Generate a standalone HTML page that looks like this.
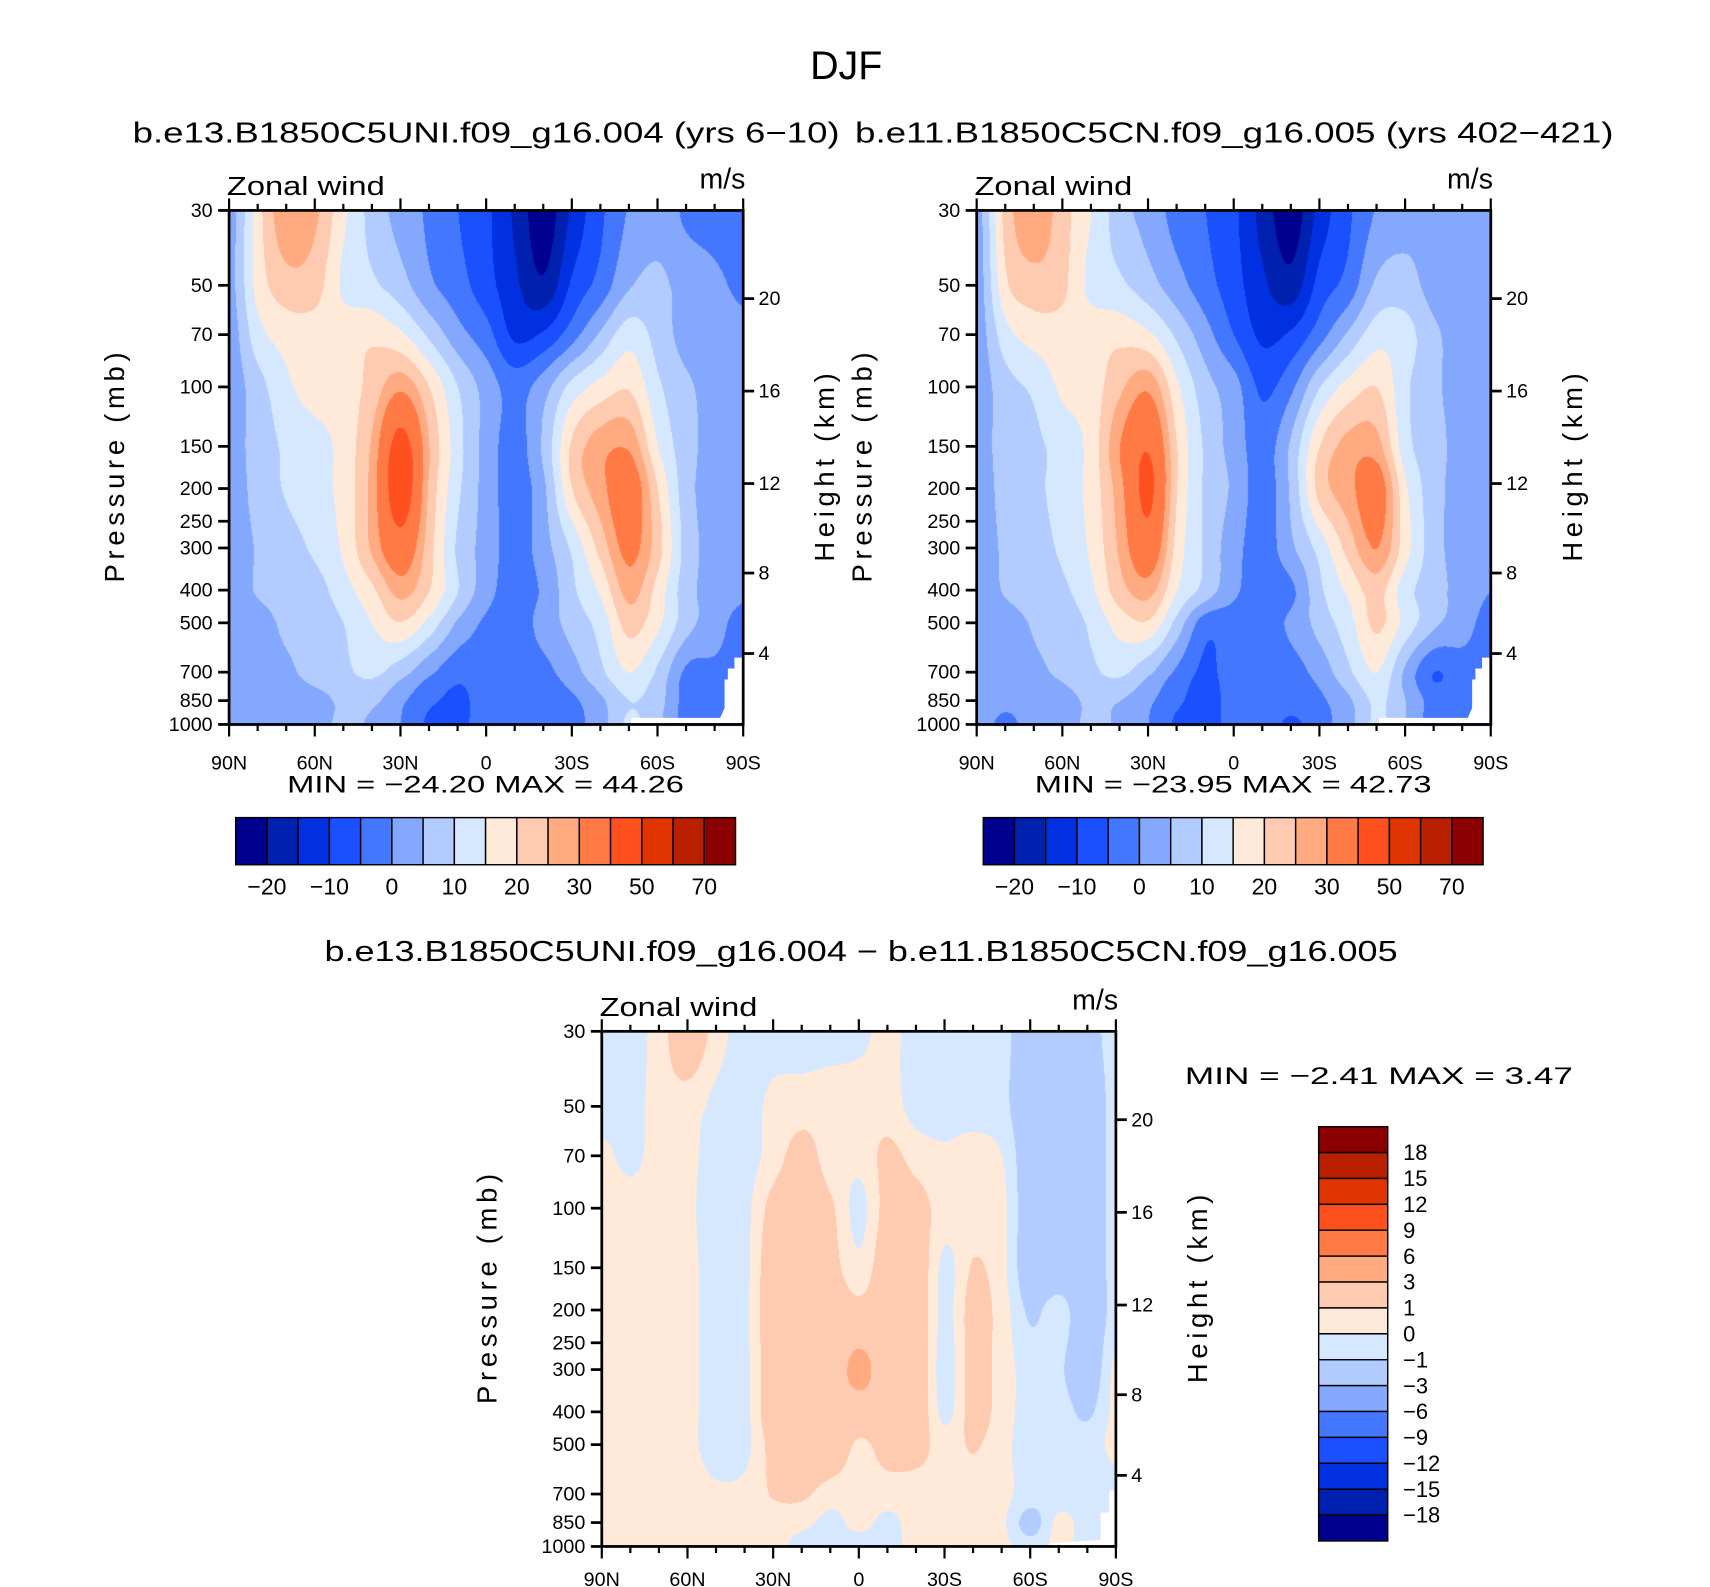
<!DOCTYPE html>
<html><head><meta charset="utf-8">
<style>
html,body{margin:0;padding:0;background:#fff;}
#wrap{position:relative;width:1710px;height:1587px;overflow:hidden;background:#fff;}
#field{position:absolute;left:0;top:0;}
#chart{position:absolute;left:0;top:0;}
text{font-family:"Liberation Sans",sans-serif;fill:#000;}
</style></head>
<body>
<div id="wrap">
<canvas id="field" width="1710" height="1587"></canvas>
<svg id="chart" width="1710" height="1587" viewBox="0 0 1560 1448" preserveAspectRatio="none" xmlns="http://www.w3.org/2000/svg">
<text x="772" y="72" font-size="36" text-anchor="middle">DJF</text>
<text x="121" y="130" font-size="26" textLength="645" lengthAdjust="spacingAndGlyphs">b.e13.B1850C5UNI.f09_g16.004 (yrs 6−10)</text>
<text x="780" y="130" font-size="26" textLength="692" lengthAdjust="spacingAndGlyphs">b.e11.B1850C5CN.f09_g16.005 (yrs 402−421)</text>
<text x="296" y="877" font-size="26" textLength="979" lengthAdjust="spacingAndGlyphs">b.e13.B1850C5UNI.f09_g16.004 − b.e11.B1850C5CN.f09_g16.005</text>
<g id="axes"></g>
</svg>
</div>
<script>
// ---------- data ----------
const pressures = [30,50,70,100,150,200,300,400,500,700,850,1000];
const latitudes = [90,80,70,60,50,40,30,20,10,0,-10,-20,-30,-40,-50,-60,-70,-80,-90];
const ctrlLevels = [-20,-15,-10,-5,0,5,10,15,20,25,30,40,50,60,70];
const ctrlLabels = ["−20","−10","0","10","20","30","50","70"];
const diffLevels = [-18,-15,-12,-9,-6,-3,-1,0,1,3,6,9,12,15,18];
const diffLabels = ["18","15","12","9","6","3","1","0","−1","−3","−6","−9","−12","−15","−18"];
const palette = ["#00008f","#0020b0","#0030e0","#1a50ff","#4477ff","#85a8ff","#b3ccff","#d6e8ff","#ffeada","#ffcbb0","#ffaa80","#ff7a45","#ff5020","#e03500","#b82000","#8b0000"];
const tickPressures = [30,50,70,100,150,200,250,300,400,500,700,850,1000];
const latTickLabels = ["90N","60N","30N","0","30S","60S","90S"];
const heightTicks = [4,8,12,16,20];

const windA = [
[2.5,18,29,26,16,8,3,-1,-5,-9,-16,-23,-14,-6,0.5,3,-1,-2,-3],
[3,17,23,22,14,11,7,1,-3,-8,-14,-19,-9,-3,4.5,6,3,1,-1],
[2,13,17,18,18,19,16,9,2,-3,-11,-9,-2,6,13,8,3,2,1],
[2,8,14,17,17.5,22,29,20,10,3,-2,3,12,17,19.5,11,6,3,1],
[3,7,11,13,17,26,44,25,12,3,-2,6,21,28,29,15,7,3,2],
[2,7,10.5,13,17,27,46,24,11,3,-2.5,4,20,28,35,20,7,3,2],
[2,5.5,8,11,16,26,36,22,9,3,-2.5,3,11,22,32,22,8,3,1],
[2,5.5,7,8,13,19,27,20,10,2,-2.5,1,9,16,27,18,7,3,1],
[2,3,6,7,10,15,19.5,13,4,-1,-2.5,2,7,12,22,16,7,2,-2],
[2,3,4,7,9,11,7,1,-3.5,-2.5,-2.5,-1.5,3,9,15,9,-1,-1,-2],
[2,2,2,3,6,6,1,-4,-6,-3,-2.5,-3,-1,4,10,7,-2,-2,-5],
[2,2,2,3,6,4,0,-6,-6,-3,-2,-5,-2,3,11,6,-2,-3,-4]
];
const windB = [
[2.5,22,29,22,15,7,3,-2,-5,-9,-17,-23,-13,-6,0.5,3,3,3,3],
[2,19,23,21,13.5,11,7,2,-3,-8,-14,-18,-8,-3,6,7,3,2,2],
[2,13,17,18,18,18.5,16,9,2,-5,-11,-9,-2,6,13,12,6,3,2],
[2,8,11,16,17.5,24,29,16,7,2,-6,-1,10,17,20,11,6,3,2],
[3,7,9,12,17,30,39,20,9,3,-2.5,6,20,27,27,12,7,3,2],
[2,7,9,12,17,28,42,20,9,4,-2.5,6,22,28,34,16,7,3,2],
[2,6,8,11,16,26,36,18,9,2,-2.5,4,12,22,30,17,7,3,2],
[2,5.5,7,9,14,23,27,15,8,1,-2.5,-1,9,16,22,12,7,3,0],
[2,3,5.5,7,11,17,19,8,-3,-2.5,-2,1,7,13,21,13,6,2,-2],
[2,2.5,4,6,9,11,6,-1,-6,-2.5,-2.5,-2,2,9,15,4,-5,-2,-3],
[2,1,2,3,6,5,1,-4,-7,-3,-2.5,-3,-1,4,11,5,-2,-1,-4],
[2,-1,2,3,6,4,0,-6,-7,-3,-2,-6,-2,3,11,5,-3,-3,-3]
];
const windDiff = [
[-0.5,-0.5,0.5,2,0.5,-0.5,-0.5,-0.5,-0.5,-0.3,0.3,-0.5,-0.5,-0.5,-0.6,-2,-2,-1.5,-0.5],
[-0.5,-0.5,0.5,0.5,-0.3,-0.5,0.3,0.5,0.6,0.6,0.5,-0.4,-0.5,-0.5,-0.7,-2,-2,-2,-0.5],
[0.3,-0.3,0.5,0.3,-0.5,-0.5,0.5,1.5,0.5,0.3,1.3,0.6,0.2,0.5,0,-2,-2,-2,-0.5],
[0.5,0.5,0.5,0.2,-0.5,-0.3,1.5,2,1.2,-0.3,1.5,1.5,0.5,0.5,0.3,-2,-2,-2,-0.5],
[0.5,0.5,0.5,0.3,-0.5,-0.3,2,2,1.5,0.3,2,2,-0.3,1.1,0.3,-2,-2,-2,-0.5],
[0.5,0.5,0.5,0.3,-0.5,-0.2,2,2,2,1.5,2,2,-0.3,1.5,0.5,-1.2,-0.5,-2,-0.5],
[0.5,0.8,0.5,0.3,-0.5,-0.3,2,2,2,3.5,2,2,-0.5,1.5,0.5,-0.5,-0.8,-2,0.3],
[0.5,0.5,0.5,0.3,-0.5,-0.3,2,2,2,2,2,2,-0.3,1.5,0.5,-0.5,-0.5,-1.2,0.3],
[0.5,0.5,0.5,0.3,-0.5,-0.3,1.5,2,2,0.8,1.5,1.5,0.5,1.1,0.3,-0.5,-0.5,-0.5,0.3],
[0.5,0.5,0.5,0.5,0.2,0.3,1.1,1.2,0.5,0.5,0.5,0.5,0.5,0.5,0.3,-0.5,-0.5,-0.5,-0.5],
[0.5,0.5,0.5,0.5,0.5,0.5,0.5,0.3,-0.3,0.3,-0.3,0.5,0.5,0.5,0.2,-1.5,0.3,-0.5,-0.5],
[0.5,0.5,0.5,0.5,0.5,0.5,0.5,-0.5,-0.3,-0.5,-0.5,0.5,0.5,0.5,0.3,-0.5,0.3,-0.5,-0.5]
];

// ---------- geometry ----------
const S = 1710/1560;
const NS = "http://www.w3.org/2000/svg";
const panels = [
 {x0:209,y0:192,w:469,h:469,grid:windA,levels:ctrlLevels,name:'control-a',lab:41},
 {x0:891,y0:192,w:469,h:469,grid:windB,levels:ctrlLevels,name:'control-b',lab:41},
 {x0:549,y0:941,w:469,h:470,grid:windDiff,levels:diffLevels,name:'difference',lab:36}
];
function xOfLat(p,lat){return p.x0 + p.w*(90-lat)/180;}
function yOfP(p,pr){return p.y0 + p.h*Math.log(pr/30)/Math.log(1000/30);}
function pOfHeight(z){ z*=1000; if(z<11000) return 1013.25*Math.pow(1-2.25577e-5*z,5.25588); return 226.32*Math.exp(-(z-11000)/6341.6);}
function colorIdx(v,lv){let i=0;while(i<lv.length&&v>=lv[i])i++;return i;}
function hex(c){return [parseInt(c.substr(1,2),16),parseInt(c.substr(3,2),16),parseInt(c.substr(5,2),16)];}
const rgb = palette.map(hex);

function cr(a,b,c,d,t){return 0.5*((2*b)+(-a+c)*t+(2*a-5*b+4*c-d)*t*t+(-a+3*b-3*c+d)*t*t*t);}
function rowVal(row,fx){
  const n=row.length; const c=Math.floor(fx), t=fx-c;
  const g=i=>row[Math.max(0,Math.min(n-1,i))];
  return cr(g(c-1),g(c),g(c+1),g(c+2),t);
}

// ---------- fields ----------
const cv=document.getElementById('field');
const ctx=cv.getContext('2d');
const img=ctx.createImageData(1710,1587);
const lnP=pressures.map(Math.log);
panels.forEach(p=>{
  const px0=Math.round(p.x0*S), px1=Math.round((p.x0+p.w)*S);
  const py0=Math.round(p.y0*S), py1=Math.round((p.y0+p.h)*S);
  const nc=latitudes.length, nr=pressures.length;
  const G=p.grid;
  for(let py=py0;py<=py1;py++){
    const dy=py/S;
    const lp=Math.log(30)+(dy-p.y0)/p.h*Math.log(1000/30);
    let k=0; while(k<nr-2 && lp>lnP[k+1]) k++;
    let fy=(lp-lnP[k])/(lnP[k+1]-lnP[k]); fy=Math.max(0,Math.min(1,fy));
    const rows=[k-1,k,k+1,k+2].map(i=>G[Math.max(0,Math.min(nr-1,i))]);
    for(let px=px0;px<=px1;px++){
      const dx=px/S;
      const lat=90-(dx-p.x0)/p.w*180;
      let fx=(latitudes[0]-lat)/(latitudes[0]-latitudes[1]);
      fx=Math.max(0,Math.min(nc-1.0001,fx));
      const v=cr(rowVal(rows[0],fx),rowVal(rows[1],fx),rowVal(rows[2],fx),rowVal(rows[3],fx),fy);
      const col=rgb[colorIdx(v,p.levels)];
      const o=(py*1710+px)*4;
      img.data[o]=col[0];img.data[o+1]=col[1];img.data[o+2]=col[2];img.data[o+3]=255;
    }
  }
});
ctx.putImageData(img,0,0);

// ---------- axes ----------
const ax=document.getElementById('axes');
function el(tag,attrs,txt){const e=document.createElementNS(NS,tag);for(const k in attrs)e.setAttribute(k,attrs[k]);if(txt!==undefined)e.textContent=txt;ax.appendChild(e);return e;}

const masks=[
 "678,600 670,600 670,610 664,610 664,620 661,620 661,646 657,655 576,655 576,661 678,661",
 "1360,600 1352,600 1352,610 1346,610 1346,620 1343,620 1343,646 1339,655 1258,655 1258,661 1360,661",
 "1018,1360 1012,1360 1012,1380 1004,1380 1004,1405 958,1408 958,1411 1018,1411"
];
masks.forEach(m=>{
  const e=el('polygon',{points:m,fill:'#fff'});
  
  
});

panels.forEach((p,pi)=>{
  const fr=el('rect',{x:p.x0,y:p.y0,width:p.w,height:p.h,fill:'none',stroke:'#000','stroke-width':2.5});
  
  
  for(let lat=90;lat>=-90;lat-=10){
    const x=xOfLat(p,lat); const major=(lat%30===0); const L=major?11:6;
    const t1=el('line',{x1:x,y1:p.y0,x2:x,y2:p.y0-L,stroke:'#000','stroke-width':2});
    
    
    const t2=el('line',{x1:x,y1:p.y0+p.h,x2:x,y2:p.y0+p.h+L,stroke:'#000','stroke-width':2});
    
    
  }
  latTickLabels.forEach((s,i)=>{
    const x=p.x0+p.w*i/6;
    const t=el('text',{x:x,y:p.y0+p.h+p.lab,'font-size':18,'text-anchor':'middle'},s);
    
    
  });
  tickPressures.forEach(pr=>{
    const y=yOfP(p,pr);
    const t=el('line',{x1:p.x0,y1:y,x2:p.x0-10,y2:y,stroke:'#000','stroke-width':2.5});
    
    
    const l=el('text',{x:p.x0-15,y:y+6,'font-size':18,'text-anchor':'end'},String(pr));
    
    
  });
  heightTicks.forEach(z=>{
    const y=yOfP(p,pOfHeight(z));
    const t=el('line',{x1:p.x0+p.w,y1:y,x2:p.x0+p.w+10,y2:y,stroke:'#000','stroke-width':2.5});
    
    
    const l=el('text',{x:p.x0+p.w+14,y:y+6,'font-size':18},String(z));
    
    
  });
  const zw=el('text',{x:p.x0-2,y:p.y0-14,'font-size':24,textLength:144,lengthAdjust:'spacingAndGlyphs'},'Zonal wind');
  
  
  const un=el('text',{x:p.x0+p.w+2,y:p.y0-20,'font-size':26,'text-anchor':'end'},'m/s');
  
  
  const cy=p.y0+p.h/2;
  const yl=el('text',{x:0,y:0,'font-size':25,'text-anchor':'middle',textLength:210,lengthAdjust:'spacing',transform:`translate(${p.x0-96},${cy}) rotate(-90)`},'Pressure (mb)');
  
  
  const hl=el('text',{x:0,y:0,'font-size':25,'text-anchor':'middle',textLength:172,lengthAdjust:'spacing',transform:`translate(${p.x0+p.w+83},${cy}) rotate(-90)`},'Height (km)');
  
  
});

[[262,723,362,'MIN = −24.20   MAX =  44.26'],[944,723,362,'MIN = −23.95   MAX =  42.73'],[1081,989,354,'MIN =   −2.41   MAX =    3.47']].forEach(a=>{
  const t=el('text',{x:a[0],y:a[1],'font-size':22,textLength:a[2],lengthAdjust:'spacingAndGlyphs'},a[3]);
  
  
});

[215,897].forEach(cx=>{
  const bw=456/palette.length;
  palette.forEach((c,i)=>{
    const r=el('rect',{x:cx+i*bw,y:746,width:bw,height:43,fill:c,stroke:'#000','stroke-width':1.3});
    
    
  });
  ctrlLabels.forEach((s,j)=>{
    const x=cx+(2*j+1)*bw;
    const t=el('text',{x:x,y:816,'font-size':21,'text-anchor':'middle'},s);
    
    
  });
});
(function(){
  const x=1203,y=1028,bw=63,bh=378/palette.length;
  palette.slice().reverse().forEach((c,i)=>{
    const r=el('rect',{x:x,y:y+i*bh,width:bw,height:bh,fill:c,stroke:'#000','stroke-width':1.3});
    
    
  });
  diffLabels.forEach((s,i)=>{
    const t=el('text',{x:1280,y:y+(i+1)*bh+7,'font-size':20},s);
    
    
  });
})();
</script>
</body></html>
